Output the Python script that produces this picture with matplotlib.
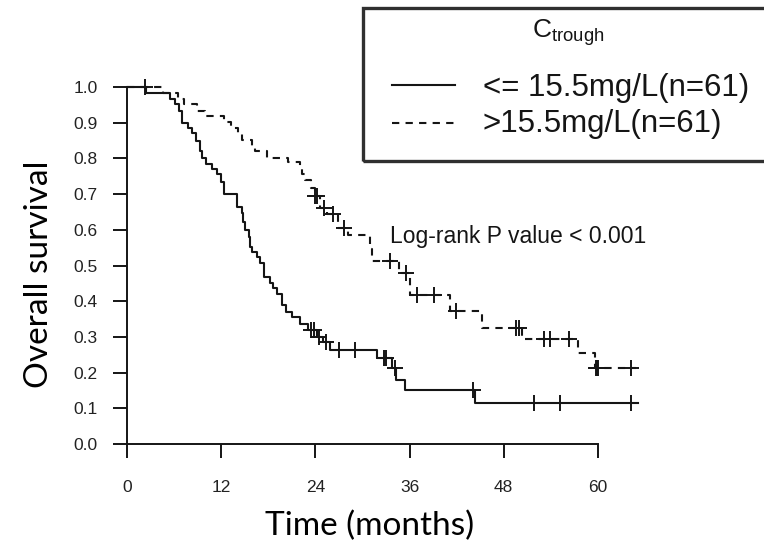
import numpy as np
import matplotlib
matplotlib.use("Agg")
import matplotlib.pyplot as plt
from matplotlib.patches import Rectangle

plt.rcParams['font.family'] = ['Liberation Sans', 'DejaVu Sans']
plt.rcParams['mathtext.fontset'] = 'custom'
plt.rcParams['mathtext.rm'] = 'Liberation Sans'

# <= 15.5 mg/L group (solid)
low_times = [0, 2.4, 5.5, 6.1, 6.6, 7.0, 7.8, 8.3, 8.8, 9.3, 9.6, 10.1, 10.8, 11.5,
             12.0, 12.3, 14.0, 14.6, 14.8, 15.0, 15.5, 15.7, 15.9, 16.5, 16.9, 17.4,
             18.2, 18.6, 19.1, 19.7, 20.3, 21.0, 22.0, 23.1, 24.2, 25.0, 25.9, 31.8,
             33.8, 34.3, 35.4, 44.3]
low_surv = [1.0, 0.984, 0.967, 0.951, 0.934, 0.90, 0.885, 0.87, 0.85, 0.82, 0.80, 0.785,
            0.77, 0.755, 0.735, 0.70, 0.665, 0.647, 0.623, 0.60, 0.58, 0.553, 0.539,
            0.524, 0.508, 0.469, 0.452, 0.436, 0.42, 0.39, 0.37, 0.355, 0.335, 0.32,
            0.30, 0.285, 0.263, 0.24, 0.212, 0.18, 0.151, 0.114]
low_end = 65.1
low_censor = [23.4, 23.8, 24.4, 25.3, 27.0, 29.1, 32.7, 33.0, 34.2, 44.1, 51.8, 55.2, 64.2]

# > 15.5 mg/L group (dashed)
high_times = [0, 4.6, 6.5, 7.2, 8.9, 9.9, 12.3, 13.3, 14.2, 14.6, 15.9, 16.3, 17.8,
              20.5, 22.0, 22.3, 22.7, 23.5, 23.9, 24.6, 25.5, 26.9, 28.2, 31.0, 31.2,
              34.6, 36.0, 36.1, 41.1, 45.2, 50.3, 57.5, 59.6]
high_surv = [1.0, 0.984, 0.967, 0.951, 0.934, 0.918, 0.902, 0.885, 0.869, 0.852, 0.836,
             0.82, 0.80, 0.79, 0.775, 0.755, 0.74, 0.718, 0.695, 0.66, 0.643, 0.605,
             0.585, 0.545, 0.512, 0.478, 0.455, 0.417, 0.373, 0.324, 0.294, 0.254, 0.212]
high_end = 64.9
high_censor = [2.3, 24.0, 24.2, 25.1, 26.3, 27.6, 33.5, 35.6, 36.9, 39.1, 41.9, 49.6,
               50.0, 53.1, 53.9, 56.3, 59.8, 59.9, 60.0, 64.2]

x_ticks = [0, 12, 24, 36, 48, 60]
y_ticks = [0.0, 0.1, 0.2, 0.3, 0.4, 0.5, 0.6, 0.7, 0.8, 0.9, 1.0]

ink = '#151515'

fig = plt.figure(figsize=(7.64, 5.52), dpi=100)
# x: 0 -> 127px, 66 months -> 645px ; y: 0 -> 444px, 1 -> 87px
ax = fig.add_axes([127 / 764, (552 - 444) / 552, 518 / 764, 357 / 552])
ax.set_xlim(0, 66)
ax.set_ylim(0, 1.0)


def km_plot(times, surv, end, censor, **kw):
    t = np.append(times, end)
    s = np.append(surv, surv[-1])
    ax.step(t, s, where='post', color=ink, lw=1.5, clip_on=False, **kw)
    idx = np.searchsorted(times, censor, side='right') - 1
    cy = np.asarray(surv)[idx]
    ax.plot(censor, cy, ls='none', marker='+', ms=11, mew=1.4, color=ink, clip_on=False)


km_plot(low_times, low_surv, low_end, low_censor)
km_plot(high_times, high_surv, high_end, high_censor, dashes=(3.5, 3))

for side in ['top', 'right']:
    ax.spines[side].set_visible(False)
ax.spines['left'].set_bounds(0, 1.0)
ax.spines['bottom'].set_bounds(0, 60)
for side in ['left', 'bottom']:
    ax.spines[side].set_linewidth(1.4)
    ax.spines[side].set_color(ink)

ax.set_xticks(x_ticks)
ax.set_yticks(y_ticks)
ax.set_yticklabels([f"{v:.1f}" for v in y_ticks])
ax.tick_params(axis='y', direction='out', length=10, width=1.4, pad=11,
               labelsize=12.5, color=ink, labelcolor='#222222')
ax.tick_params(axis='x', direction='out', length=10, width=1.4, pad=16,
               labelsize=12.5, color=ink, labelcolor='#222222')

ax.text(33.5, 0.58, "Log-rank P value < 0.001", fontsize=16.5, color=ink,
        ha='left', va='center')

fig.text(39 / 764, 1 - 274 / 552, "Overall survival", rotation=90, fontsize=24,
         family=['Lato', 'DejaVu Sans'], ha='center', va='center', color='black')
fig.text(370 / 764, 1 - 526 / 552, "Time (months)", fontsize=24,
         family=['Lato', 'DejaVu Sans'], ha='center', va='center', color='black')

# legend box, runs past the right edge
box = Rectangle((363 / 764, 1 - 161 / 552), 420 / 764, 153 / 552,
                transform=fig.transFigure, fill=False, lw=2.4, ec='#303030',
                clip_on=False)
fig.patches.append(box)
fig.text(568 / 764, 1 - 32 / 552, r"C$_{\rm trough}$", fontsize=19, ha='center',
         va='center', color=ink)
fig.lines.append(plt.Line2D([392 / 764, 455 / 764], [1 - 85 / 552, 1 - 85 / 552],
                            transform=fig.transFigure, color=ink, lw=1.5))
fig.lines.append(plt.Line2D([392 / 764, 455 / 764], [1 - 123 / 552, 1 - 123 / 552],
                            transform=fig.transFigure, color=ink, lw=1.5,
                            dashes=(3.5, 3)))
fig.text(483 / 764, 1 - 88 / 552, "<= 15.5mg/L(n=61)", fontsize=22.5, ha='left',
         va='center', color=ink)
fig.text(483 / 764, 1 - 124 / 552, ">15.5mg/L(n=61)", fontsize=22.5, ha='left',
         va='center', color=ink)

fig.savefig("out.png", dpi=100)
